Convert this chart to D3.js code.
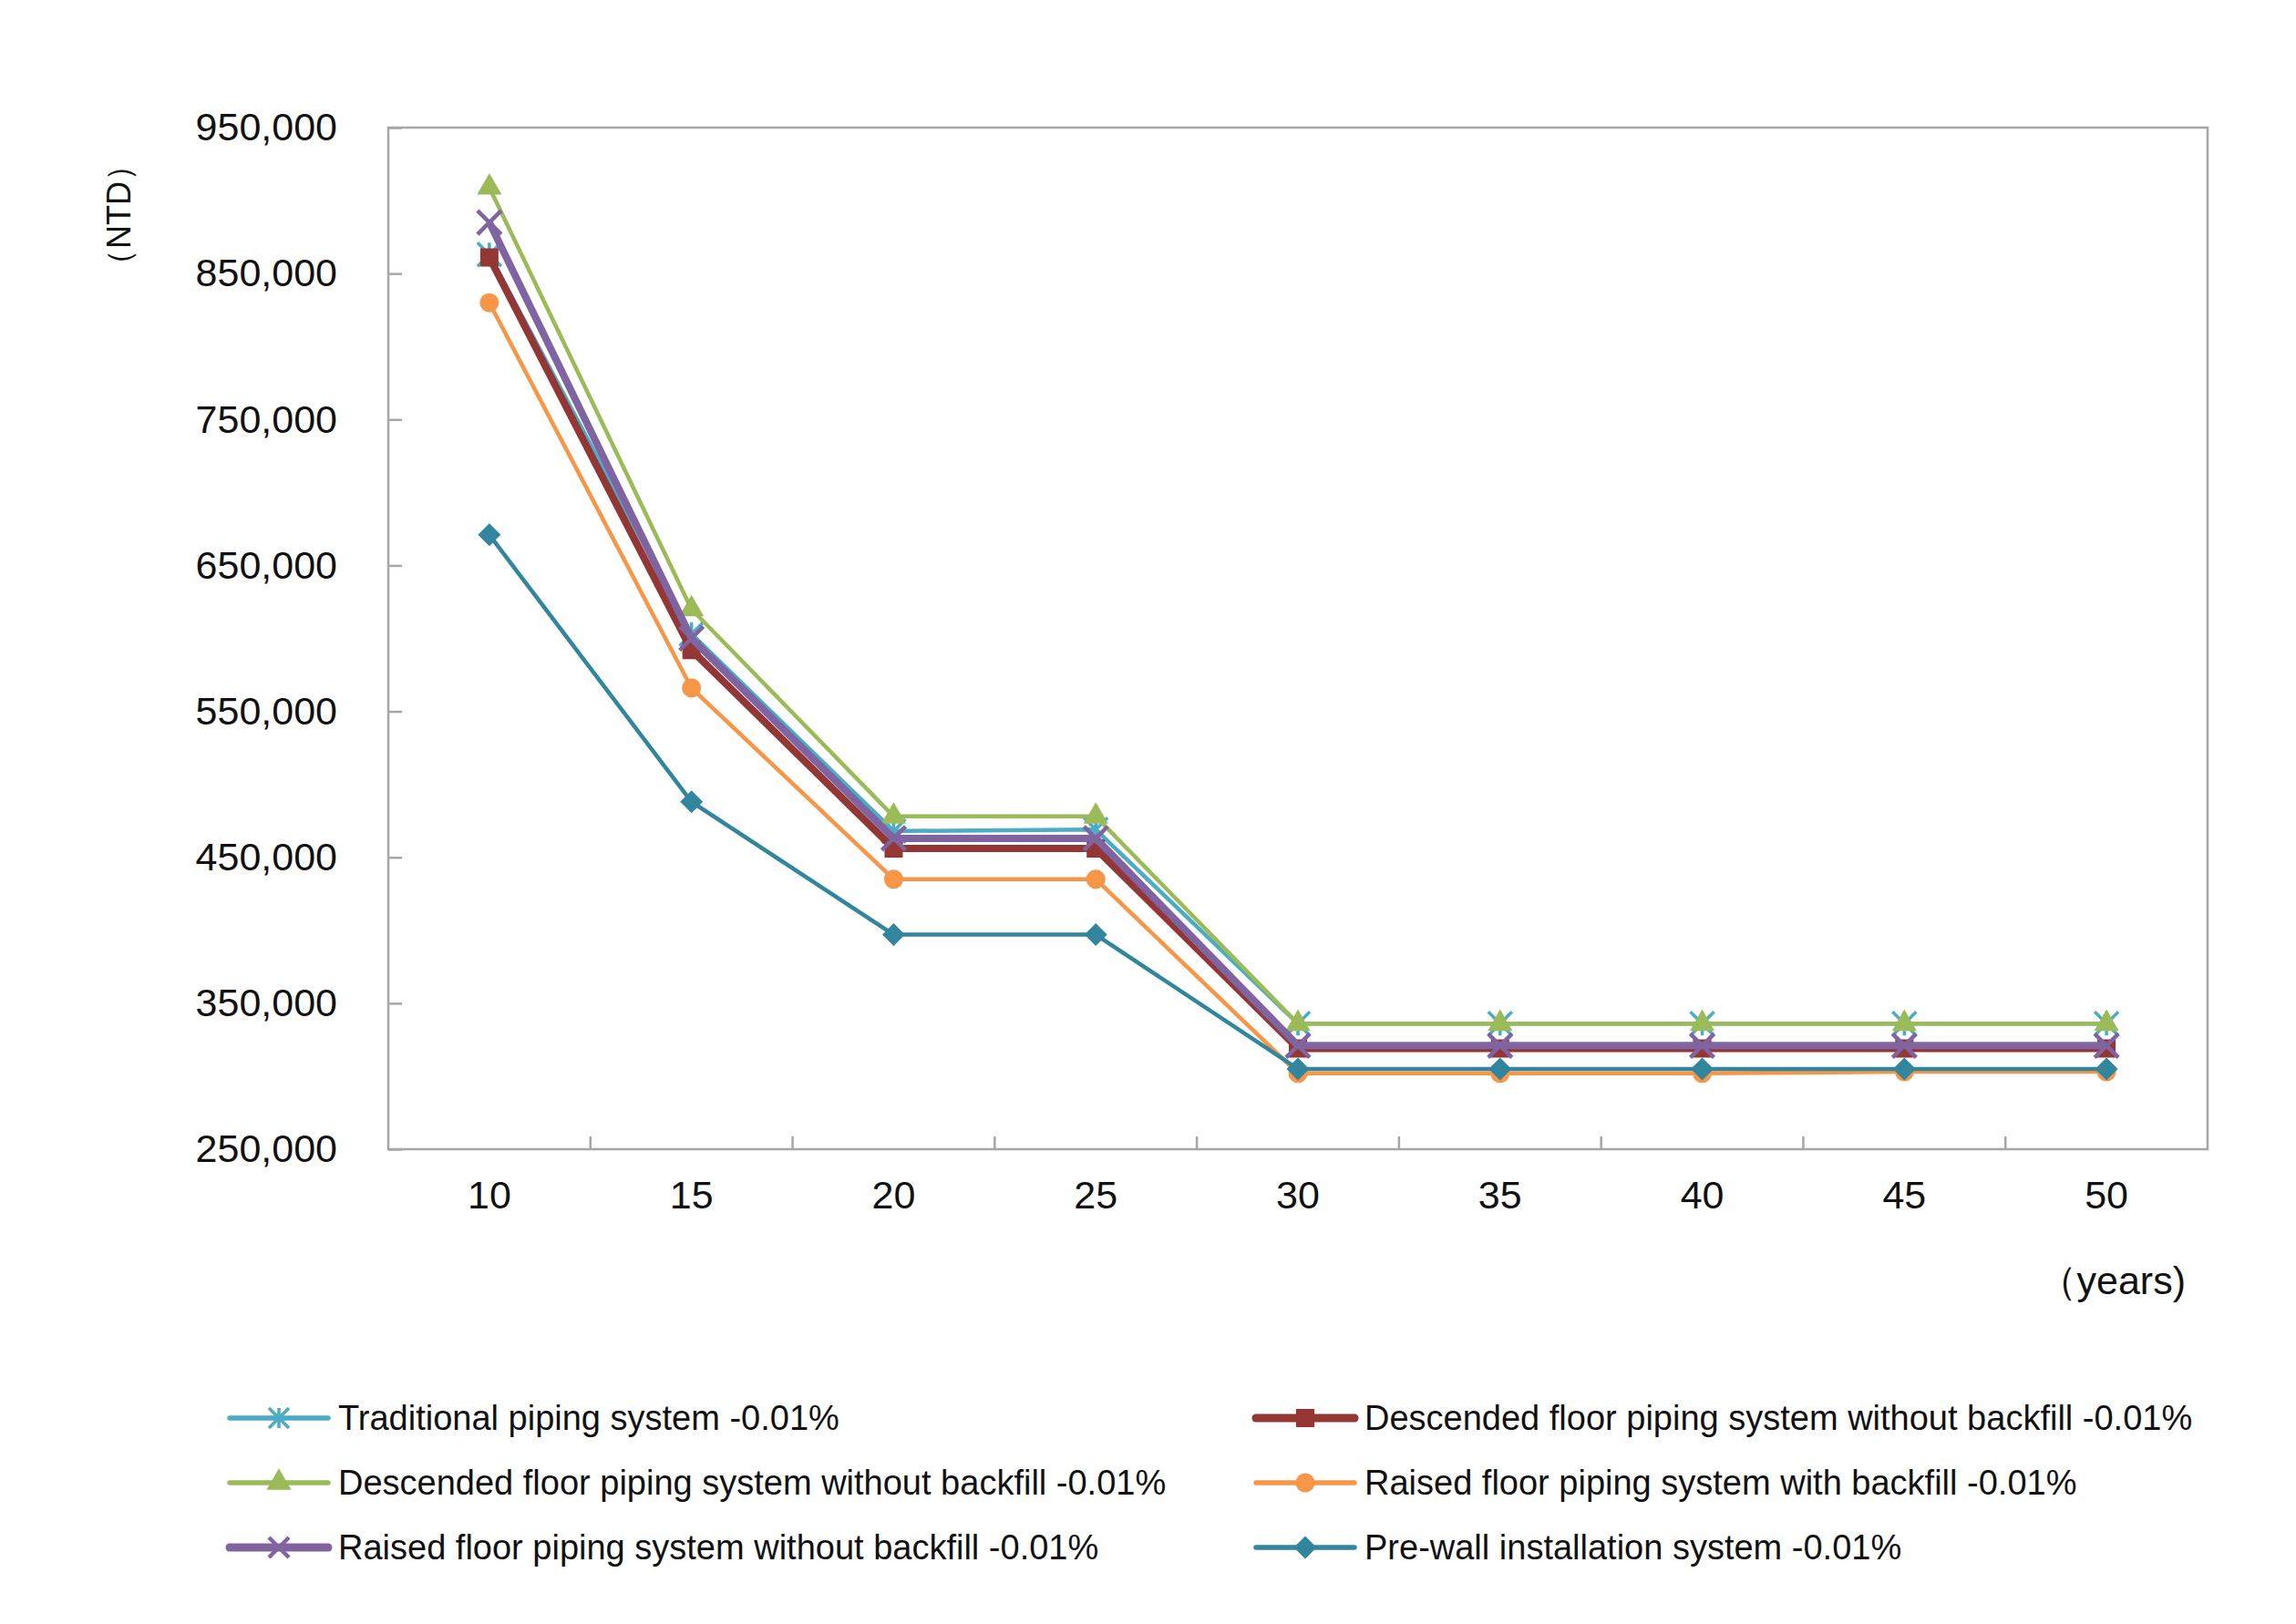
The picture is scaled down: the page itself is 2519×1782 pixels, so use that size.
<!DOCTYPE html>
<html>
<head>
<meta charset="utf-8">
<script src="https://cdn.jsdelivr.net/npm/d3@7"></script>
<style>
  html, body { margin: 0; padding: 0; background: #fff; }
  svg { display: block; font-family: "Liberation Sans", Arial, sans-serif; }
</style>
</head>
<body>
<div id="chart"></div>
<script>
// data
var years = ['10', '15', '20', '25', '30', '35', '40', '45', '50'];
var yTicks = [250000, 350000, 450000, 550000, 650000, 750000, 850000, 950000];

var traditional   = [863000, 603000, 468000, 469000, 336000, 336000, 336000, 336000, 336000];
var descendedRed  = [861000, 592000, 456000, 456000, 319000, 319000, 319000, 319000, 319000];
var descendedGrn  = [909000, 620000, 478000, 478000, 336000, 336000, 336000, 336000, 336000];
var raisedWith    = [830000, 566000, 435000, 435000, 302000, 302000, 302000, 303000, 303000];
var raisedWithout = [885000, 600000, 463000, 463000, 321000, 321000, 321000, 321000, 321000];
var preWall       = [671000, 488000, 397000, 397000, 305000, 305000, 305000, 305000, 305000];

var seriesNames = [
  'Traditional piping system -0.01%',
  'Descended floor piping system without backfill -0.01%',
  'Descended floor piping system without backfill -0.01%',
  'Raised floor piping system with backfill -0.01%',
  'Raised floor piping system without backfill -0.01%',
  'Pre-wall installation system -0.01%'
];

// drawing order follows the original (later ones on top)
var series = [
  {name: seriesNames[0], values: traditional,   color: '#4bacc6', width: 4.5, marker: 'star'},
  {name: seriesNames[1], values: descendedRed,  color: '#943634', width: 8,   marker: 'square'},
  {name: seriesNames[2], values: descendedGrn,  color: '#9bbb59', width: 4.5, marker: 'triangle'},
  {name: seriesNames[3], values: raisedWith,    color: '#f79646', width: 4.5, marker: 'circle'},
  {name: seriesNames[4], values: raisedWithout, color: '#8064a2', width: 8,   marker: 'x'},
  {name: seriesNames[5], values: preWall,       color: '#31859c', width: 4.5, marker: 'diamond'}
];

var W = 2519, H = 1782;
var margin = {top: 140, right: 97, bottom: 521, left: 426},
    width = W - margin.left - margin.right,
    height = H - margin.top - margin.bottom;

var svg = d3.select('#chart').append('svg')
  .attr('width', W).attr('height', H)
  .attr('viewBox', [0, 0, W, H]);

var g = svg.append('g')
  .attr('transform', 'translate(' + margin.left + ',' + margin.top + ')');

var xScale = d3.scaleBand().domain(years).range([0, width]).padding(0);
var yScale = d3.scaleLinear().domain([250000, 950000]).range([height, 0]);
var cx = function(d, i) { return xScale(years[i]) + xScale.bandwidth() / 2; };

var axisColor = '#a6a6a6';

// plot frame
g.append('rect')
  .attr('x', 0).attr('y', 0)
  .attr('width', width).attr('height', height)
  .attr('fill', 'none')
  .attr('stroke', axisColor)
  .attr('stroke-width', 2.5);

// y axis, ticks pointing inwards
g.append('g')
  .attr('class', 'yaxis')
  .call(d3.axisLeft(yScale).tickValues(yTicks).tickFormat(d3.format(','))
    .tickSize(-15).tickPadding(56));

// x axis labels at band centres
g.append('g')
  .attr('class', 'xaxis')
  .attr('transform', 'translate(0,' + height + ')')
  .call(d3.axisBottom(xScale).tickSize(0).tickPadding(34));

// x tick marks at band boundaries
g.append('g')
  .selectAll('line.xtick')
  .data(years.slice(1))
  .enter().append('line')
  .attr('class', 'xtick')
  .attr('x1', function(d) { return xScale(d); })
  .attr('x2', function(d) { return xScale(d); })
  .attr('y1', height).attr('y2', height - 14)
  .attr('stroke', axisColor).attr('stroke-width', 2.5);

g.selectAll('.yaxis text, .xaxis text')
  .style('fill', '#111')
  .style('font-size', '43px')
  .style('font-family', '"Liberation Sans", Arial, sans-serif');
g.selectAll('.yaxis .tick line').attr('stroke', axisColor).attr('stroke-width', 2.5);
g.selectAll('path.domain').style('stroke', 'none');

// axis titles
svg.append('text')
  .attr('transform', 'translate(130,236) rotate(-90)')
  .attr('text-anchor', 'middle')
  .attr('dominant-baseline', 'central')
  .style('font-size', '36px')
  .style('fill', '#111')
  .text('\uff08NTD\uff09');

svg.append('text')
  .attr('x', 2398).attr('y', 1420)
  .attr('text-anchor', 'end')
  .style('font-size', '43px')
  .style('fill', '#111')
  .text('\uff08years)');

// markers
function drawMarker(sel, type, color, s) {
  var r = s / 2;
  if (type === 'square') {
    sel.append('path').attr('d', d3.symbol(d3.symbolSquare, 400)).attr('fill', color);
  } else if (type === 'triangle') {
    sel.append('path').attr('d', d3.symbol(d3.symbolTriangle, 320)).attr('fill', color);
  } else if (type === 'circle') {
    sel.append('path').attr('d', d3.symbol(d3.symbolCircle, 346)).attr('fill', color);
  } else if (type === 'diamond') {
    sel.append('path').attr('d', d3.symbol(d3.symbolSquare, 312))
      .attr('transform', 'rotate(45)').attr('fill', color);
  } else if (type === 'x') {
    sel.append('path')
      .attr('d', 'M' + -r + ',' + -r + 'L' + r + ',' + r + 'M' + -r + ',' + r + 'L' + r + ',' + -r)
      .attr('stroke', color).attr('stroke-width', 4.5).attr('fill', 'none');
  } else if (type === 'star') {
    sel.append('path')
      .attr('d', 'M' + -r + ',' + -r + 'L' + r + ',' + r + 'M' + -r + ',' + r + 'L' + r + ',' + -r +
                 'M0,' + -r + 'L0,' + r)
      .attr('stroke', color).attr('stroke-width', 3.5).attr('fill', 'none');
  }
}

var valueline = d3.line()
  .x(function(d, i) { return cx(d, i); })
  .y(function(d) { return yScale(d); });

series.forEach(function(s) {
  var layer = g.append('g').attr('class', 'series');
  layer.append('path')
    .datum(s.values)
    .attr('d', valueline)
    .attr('fill', 'none')
    .attr('stroke', s.color)
    .attr('stroke-width', s.width)
    .attr('stroke-linejoin', 'round');

  layer.selectAll('g.pt')
    .data(s.values)
    .enter().append('g')
    .attr('class', 'pt')
    .attr('transform', function(d, i) { return 'translate(' + cx(d, i) + ',' + yScale(d) + ')'; })
    .each(function() { drawMarker(d3.select(this), s.marker, s.color, 26); });
});

// legend, two columns filled row by row
var legendRows = [1556, 1627, 1698];
var legendCols = [252, 1378];

var legend = svg.append('g').attr('class', 'legend');
series.forEach(function(s, i) {
  var lx = legendCols[i % 2], ly = legendRows[Math.floor(i / 2)];
  var item = legend.append('g').attr('transform', 'translate(' + lx + ',' + ly + ')');
  item.append('line')
    .attr('x1', 0).attr('x2', 108)
    .attr('stroke', s.color)
    .attr('stroke-width', s.width + 1)
    .attr('stroke-linecap', 'round');
  drawMarker(item.append('g').attr('transform', 'translate(54,0)'), s.marker, s.color, 22);
  item.append('text')
    .attr('x', 119).attr('y', 0)
    .attr('dominant-baseline', 'central')
    .style('font-size', '38px')
    .style('fill', '#111')
    .text(s.name);
});
</script>
</body>
</html>
